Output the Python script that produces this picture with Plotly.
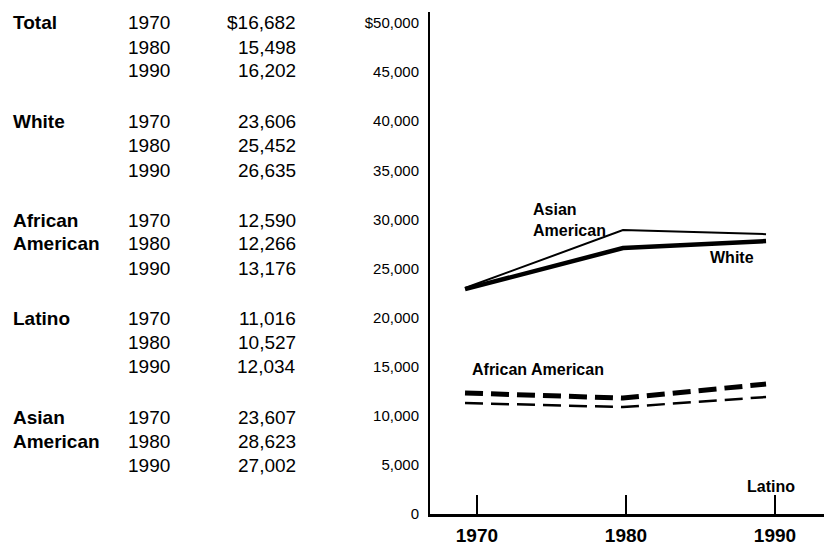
import plotly.graph_objects as go

# ---- data ----
groups = ["Total", "White", "African American", "Latino", "Asian American"]
years = [1970, 1980, 1990]
table_values = [
    ["$16,682", "15,498", "16,202"],
    ["23,606", "25,452", "26,635"],
    ["12,590", "12,266", "13,176"],
    ["11,016", "10,527", "12,034"],
    ["23,607", "28,623", "27,002"],
]

# plotted lines
line_x = [1969.2, 1979.8, 1989.4]
asian_line = [23010, 28910, 28500]
white_line = [22900, 27080, 27790]
african_line = [12320, 11810, 13230]
latino_line = [11300, 10890, 11910]

y_ticks = [0, 5000, 10000, 15000, 20000, 25000, 30000, 35000, 40000, 45000, 50000]
y_ticktext = [("$" if v == 50000 else "") + (f"{v:,}" if v else "0") for v in y_ticks]

FONT = "Liberation Sans, Arial, Helvetica, sans-serif"
W, H = 824, 546


def px(x):
    return x / W


def py(y):
    return 1 - y / H


fig = go.Figure()

fig.add_trace(go.Scatter(x=line_x, y=asian_line, mode="lines", name="Asian American",
                         line=dict(color="black", width=2)))
fig.add_trace(go.Scatter(x=line_x, y=white_line, mode="lines", name="White",
                         line=dict(color="black", width=4.5)))
fig.add_trace(go.Scatter(x=line_x, y=african_line, mode="lines", name="African American",
                         line=dict(color="black", width=5, dash="18px,8px")))
fig.add_trace(go.Scatter(x=line_x, y=latino_line, mode="lines", name="Latino",
                         line=dict(color="black", width=2.5, dash="18px,8px")))

annotations = []

# ---- left-hand table ----
group_top = [23, 122, 220, 318, 417]
row_step = 24
for gi, (name, vals) in enumerate(zip(groups, table_values)):
    words = [name] if name in ("Total", "White", "Latino") else name.split(" ")
    for wi, w in enumerate(words):
        annotations.append(dict(
            x=px(11), y=py(group_top[gi] + wi * row_step), xref="paper", yref="paper",
            text=f"<b>{w}</b>", showarrow=False, xanchor="left", yanchor="middle",
            font=dict(family=FONT, size=19, color="black")))
    for ri, (yr, v) in enumerate(zip(years, vals)):
        yy = py(group_top[gi] + ri * row_step)
        annotations.append(dict(
            x=px(126), y=yy, xref="paper", yref="paper", text=str(yr), showarrow=False,
            xanchor="left", yanchor="middle", font=dict(family=FONT, size=19, color="black")))
        annotations.append(dict(
            x=px(298), y=yy, xref="paper", yref="paper", text=v, showarrow=False,
            xanchor="right", yanchor="middle", font=dict(family=FONT, size=19, color="black")))

# ---- line labels ----
lab_font = dict(family=FONT, size=16, color="black")
annotations += [
    dict(x=1973.6, y=29890, xref="x", yref="y", text="<b>Asian<br>American</b>", showarrow=False,
         xanchor="left", yanchor="middle", align="left", font=lab_font),
    dict(x=1987.1, y=26070, xref="x", yref="y", text="<b>White</b>", showarrow=False,
         xanchor="center", yanchor="middle", font=lab_font),
    dict(x=1969.55, y=14765, xref="x", yref="y", text="<b>African American</b>", showarrow=False,
         xanchor="left", yanchor="middle", font=lab_font),
    dict(x=1988.0, y=2750, xref="x", yref="y", text="<b>Latino</b>", showarrow=False,
         xanchor="left", yanchor="middle", font=lab_font),
]

fig.update_layout(
    width=W, height=H,
    margin=dict(l=0, r=0, t=0, b=0, autoexpand=False),
    paper_bgcolor="white", plot_bgcolor="white",
    showlegend=False,
    annotations=annotations,
    xaxis=dict(
        domain=[430 / W, 1], range=[1966.85, 1993.29],
        tickvals=years, ticktext=[str(y) for y in years],
        ticks="inside", ticklen=19, tickwidth=2, tickcolor="black",
        showline=True, linewidth=3, linecolor="black",
        showgrid=False, zeroline=False, automargin=False,
        tickfont=dict(family=FONT, size=19, color="black", weight="bold"),
        ticklabelstandoff=2,
    ),
    yaxis=dict(
        domain=[py(514), py(12)], range=[0, 51120],
        tickvals=y_ticks, ticktext=y_ticktext,
        ticks="", showline=True, linewidth=2, linecolor="black",
        showgrid=False, zeroline=False, automargin=False,
        tickfont=dict(family=FONT, size=15, color="black"),
        ticklabelstandoff=6,
    ),
)

fig.write_html(
    "out.html",
    config={"displayModeBar": False},
    post_script="document.body.style.margin='0';document.body.style.overflow='hidden';",
)
